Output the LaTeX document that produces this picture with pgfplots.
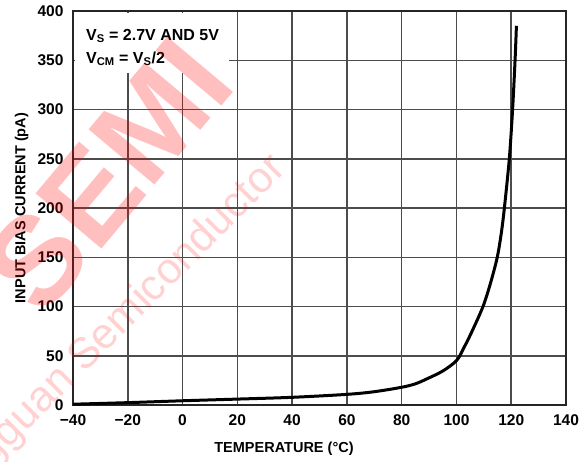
\documentclass[border=0pt]{standalone}
\usepackage{fontspec}
\setmainfont{Liberation Sans}
\usepackage{pgfplots}
\pgfplotsset{compat=1.18}
\begin{document}
\begin{tikzpicture}[font=\fontsize{14.5}{17}\selectfont\bfseries]
\begin{axis}[
  at={(0,0)}, anchor=south west,
  scale only axis, width=493pt, height=394pt,
  xmin=-40, xmax=140, ymin=0, ymax=400,
  xtick={-40,-20,...,140},
  xticklabels={−40,−20,0,20,40,60,80,100,120,140},
  ytick={0,50,...,400},
  /pgf/number format/assume math mode=true,
  grid=major,
  major grid style={black!70, line width=1.5pt},
  major tick length=0pt,
  axis line style={black!85, line width=2pt},
  tick label style={font=\fontsize{15.5}{18}\selectfont\bfseries},
  xticklabel style={yshift=-6pt},
  yticklabel style={xshift=-6pt},
  xlabel={TEMPERATURE (°C)},
  ylabel={INPUT BIAS CURRENT (pA)},
  every axis x label/.style={at={(axis description cs:0.428,-0.11)}, anchor=center},
  every axis y label/.style={at={(axis description cs:-0.104,0.5)}, rotate=90, anchor=center},
]
% current vs temperature
\addplot[black, line width=3pt, smooth] coordinates {
  (-40,0.8) (-20,2.4) (0,4.3) (20,6) (40,7.8) (60,10.8) (70,13.5)
  (80,18) (85,21.5) (89.1,26.4) (95,34.5) (100,45) (102.5,57)
  (105.5,73.7) (109.7,100) (112.5,124.4) (114.9,150) (116.4,175)
  (117.5,200) (119.3,250) (120.5,300) (121.4,350) (121.9,385)
};
\fill[white] (axis cs:-39.3,337) rectangle (axis cs:17,398.4);
\node[anchor=base west, font=\fontsize{16}{19}\selectfont\bfseries] at (axis cs:-36.5,370.5) {V\textsubscript{S} = 2.7V AND 5V};
\node[anchor=base west, font=\fontsize{16}{19}\selectfont\bfseries] at (axis cs:-36.5,347) {V\textsubscript{CM} = V\textsubscript{S}/2};
\end{axis}
% watermark
\node[rotate=50, text=red, opacity=0.25, font=\fontsize{125}{125}\selectfont\bfseries] at (35pt,230pt) {SEMI};
\node[rotate=45, anchor=base east, text=red, opacity=0.18, font=\fontsize{43}{43}\selectfont] at (217pt,237pt) {Dongguan Semiconductor};
\pgfresetboundingbox
\path (-73pt,-56pt) rectangle (512pt,405pt);
\end{tikzpicture}
\end{document}
